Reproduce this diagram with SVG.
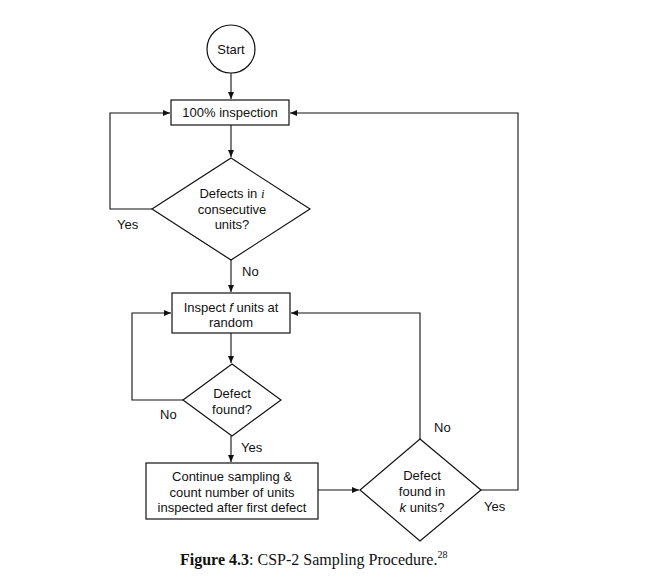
<svg xmlns="http://www.w3.org/2000/svg" width="651" height="576" viewBox="0 0 651 576">
<defs>
<marker id="ah" markerWidth="8" markerHeight="8" refX="7" refY="4" orient="auto" markerUnits="userSpaceOnUse">
<path d="M0,1 L7,4 L0,7 Z" fill="#111"/>
</marker>
<style>
.s{fill:#fff;stroke:#111;stroke-width:1.2}
.t{font-family:"Liberation Sans",Arial,sans-serif;font-size:13px;fill:#111;text-anchor:middle}
.l{font-family:"Liberation Sans",Arial,sans-serif;font-size:13px;fill:#111}
.c{fill:none;stroke:#111;stroke-width:1.1}
</style>
</defs>
<rect width="651" height="576" fill="#fff"/>
<g id="connectors">
<path class="c" d="M231,73 L231,99" marker-end="url(#ah)"/>
<path class="c" d="M231,125 L231,157" marker-end="url(#ah)"/>
<path class="c" d="M152,209 L110,209 L110,113 L170,113" marker-end="url(#ah)"/>
<path class="c" d="M231,260 L231,292" marker-end="url(#ah)"/>
<path class="c" d="M231,333 L231,363" marker-end="url(#ah)"/>
<path class="c" d="M183,400 L132,400 L132,313 L171,313" marker-end="url(#ah)"/>
<path class="c" d="M231,436 L231,462" marker-end="url(#ah)"/>
<path class="c" d="M318,490 L359,490" marker-end="url(#ah)"/>
<path class="c" d="M420,439 L420,313 L291,313" marker-end="url(#ah)"/>
<path class="c" d="M481,490 L518,490 L518,113 L290,113" marker-end="url(#ah)"/>
<text class="l" x="117" y="229">Yes</text>
<text class="l" x="242" y="276">No</text>
<text class="l" x="160" y="419">No</text>
<text class="l" x="241" y="452">Yes</text>
<text class="l" x="434" y="432">No</text>
<text class="l" x="484" y="511">Yes</text>
</g>
<g id="start">
<circle class="s" cx="231" cy="49" r="24"/>
<text class="t" x="231" y="54" font-size="12">Start</text>
</g>
<g id="inspection100">
<rect class="s" x="171" y="100" width="118" height="25"/>
<text class="t" x="230" y="117">100% inspection</text>
</g>
<g id="defectsI">
<polygon class="s" points="231,158 310,209 231,260 152,209"/>
<text class="t" x="232" y="198">Defects in <tspan font-style="italic" font-family="'Liberation Serif',serif">i</tspan></text>
<text class="t" x="232" y="214">consecutive</text>
<text class="t" x="232" y="229">units?</text>
</g>
<g id="inspectF">
<rect class="s" x="172" y="293" width="118" height="40"/>
<text class="t" x="231" y="312">Inspect <tspan font-style="italic">f</tspan> units at</text>
<text class="t" x="231" y="327">random</text>
</g>
<g id="defectFound">
<polygon class="s" points="232,364 281,400 232,436 183,400"/>
<text class="t" x="232" y="398">Defect</text>
<text class="t" x="232" y="414">found?</text>
</g>
<g id="continueSampling">
<rect class="s" x="146" y="463" width="172" height="56"/>
<text class="t" x="232" y="481">Continue sampling &amp;</text>
<text class="t" x="232" y="497">count number of units</text>
<text class="t" x="232" y="512">inspected after first defect</text>
</g>
<g id="defectK">
<polygon class="s" points="420,439 481,490 420,541 360,490"/>
<text class="t" x="422" y="480">Defect</text>
<text class="t" x="422" y="496">found in</text>
<text class="t" x="422" y="512"><tspan font-style="italic">k</tspan> units?</text>
</g>
<g id="caption">
<text x="180" y="565" font-family="'Liberation Serif','Times New Roman',serif" font-size="16" fill="#111"><tspan font-weight="bold">Figure 4.3</tspan>: CSP-2 Sampling Procedure.<tspan font-size="10" dy="-7">28</tspan></text>
</g>
</svg>
